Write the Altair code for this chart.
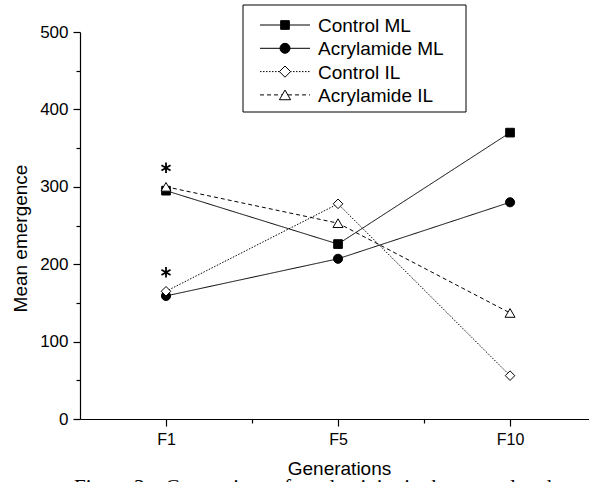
import altair as alt
import pandas as pd

# Generations on the x axis
generations = ["F1", "F5", "F10"]

# Series names and mean emergence per generation
series_names = ["Control ML", "Acrylamide ML", "Control IL", "Acrylamide IL"]
control_ml = [295, 226, 370]
acrylamide_ml = [159, 207, 280]
control_il = [165, 278, 56]
acrylamide_il = [300, 253, 137]

# Series flagged as significant at F1 (asterisk)
significant_f1 = ["Acrylamide IL", "Control IL"]

caption = "Figure 3 \u2013 Comparison of productivity in the control and"

series_values = [control_ml, acrylamide_ml, control_il, acrylamide_il]
rows = []
for name, vals in zip(series_names, series_values):
    for i, (g, v) in enumerate(zip(generations, vals)):
        rows.append({"series": name, "pos": i, "gen": g, "value": v})
df = pd.DataFrame(rows)
stars = df[(df["gen"] == generations[0]) & (df["series"].isin(significant_f1))]

shapes = ["square", "circle", "diamond", "triangle-up"]
dashes = [[1, 0], [1, 0], [1.5, 1.5], [4, 3]]
fills = ["black", "black", "white", "white"]
sizes = [75, 100, 125, 125]

shape_scale = alt.Scale(domain=series_names, range=shapes)
dash_scale = alt.Scale(domain=series_names, range=dashes)
fill_scale = alt.Scale(domain=series_names, range=fills)
size_scale = alt.Scale(domain=series_names, range=sizes)

label_expr = "[" + ",".join(f"'{g}'" for g in generations) + "][datum.value]"

x_main = alt.X(
    "pos:Q",
    scale=alt.Scale(domain=[-0.5, 2.459], nice=False, zero=False),
    axis=alt.Axis(
        orient="bottom", values=[0, 1, 2], labelExpr=label_expr,
        title="Generations", tickSize=7, labelPadding=5, labelFontSize=16,
        titleX=259, titleY=40, titleBaseline="top", titleAlign="center",
    ),
)
y_main = alt.Y(
    "value:Q",
    scale=alt.Scale(domain=[0, 500], nice=False),
    axis=alt.Axis(
        orient="left", values=list(range(0, 501, 100)), title="Mean emergence",
        tickSize=7, labelPadding=5, labelFontSize=17,
        titleAngle=-90, titleX=-60, titleY=206, titleBaseline="middle", titleAlign="center",
    ),
)

base = alt.Chart(df)

lines = base.mark_line(color="black", strokeWidth=1).encode(
    x=x_main,
    y=y_main,
    detail="series:N",
    strokeDash=alt.StrokeDash("series:N", scale=dash_scale, legend=None),
)

points = base.mark_point(filled=True, stroke="black", strokeWidth=1, opacity=1).encode(
    x=alt.X("pos:Q", axis=None),
    y=alt.Y("value:Q", axis=None),
    shape=alt.Shape("series:N", scale=shape_scale, legend=None),
    fill=alt.Fill("series:N", scale=fill_scale, legend=None),
    size=alt.Size("series:N", scale=size_scale, legend=None),
)

asterisk_path = "M0,-1L0,1M-0.866,-0.5L0.866,0.5M-0.866,0.5L0.866,-0.5"
star_marks = alt.Chart(stars).mark_point(
    shape=asterisk_path, size=110, stroke="black", strokeWidth=1.8, opacity=1, filled=False
).encode(
    x=alt.X("pos:Q", axis=None),
    y=alt.Y("value:Q", axis=None),
    yOffset=alt.value(-19),
)

# Minor ticks between the labelled ticks
minor = base.mark_point(opacity=0).encode(
    x=alt.X("pos:Q", axis=alt.Axis(orient="bottom", values=[0.5, 1.5], labels=False,
                                   title=None, domain=False, tickSize=4)),
    y=alt.Y("value:Q", axis=alt.Axis(orient="left", values=list(range(50, 500, 100)),
                                     labels=False, title=None, domain=False, tickSize=4)),
)

# Legend box drawn inside the plot
one = alt.Data(values=[{}])
box_left, box_right, box_top, box_bottom = 163, 386, -27, 80
legend_layers = [
    alt.Chart(one).mark_rect(fill="white", stroke="black", strokeWidth=1).encode(
        x=alt.value(box_left), x2=alt.value(box_right),
        y=alt.value(box_top), y2=alt.value(box_bottom),
    )
]
row_y0, row_step = -7, 23.3
for i, name in enumerate(series_names):
    ry = row_y0 + i * row_step
    legend_layers.append(
        alt.Chart(one).mark_rule(color="black", strokeWidth=1, strokeDash=dashes[i]).encode(
            x=alt.value(180), x2=alt.value(230), y=alt.value(ry),
        )
    )
    legend_layers.append(
        alt.Chart(one).mark_point(
            shape=shapes[i], size=sizes[i], fill=fills[i], stroke="black",
            strokeWidth=1, opacity=1, filled=True,
        ).encode(x=alt.value(205), y=alt.value(ry))
    )
    legend_layers.append(
        alt.Chart(one).mark_text(
            align="left", baseline="middle", font="Liberation Sans", fontSize=19, color="black"
        ).encode(x=alt.value(238), y=alt.value(ry + 1), text=alt.value(name))
    )

caption_mark = alt.Chart(one).mark_text(
    align="left", baseline="top", font="Liberation Serif", fontSize=21, color="black"
).encode(x=alt.value(-6), y=alt.value(445), text=alt.value(caption))

chart = alt.layer(
    lines, minor, points, star_marks, *legend_layers, caption_mark
).resolve_axis(
    x="independent", y="independent"
).properties(
    width=509,
    height=387,
    autosize=alt.AutoSizeParams(type="none"),
    padding={"left": 80, "top": 32, "right": 0, "bottom": 63},
    background="white",
).configure_view(
    stroke=None
).configure_axis(
    grid=False,
    labelFont="Liberation Sans",
    titleFont="Liberation Sans",
    titleFontSize=19,
    titleFontWeight="normal",
    labelColor="black",
    titleColor="black",
    domainColor="black",
    tickColor="black",
    domainWidth=1.2,
    tickWidth=1.2,
)

chart.save("out.html", embed_options={"renderer": "svg", "actions": False})
